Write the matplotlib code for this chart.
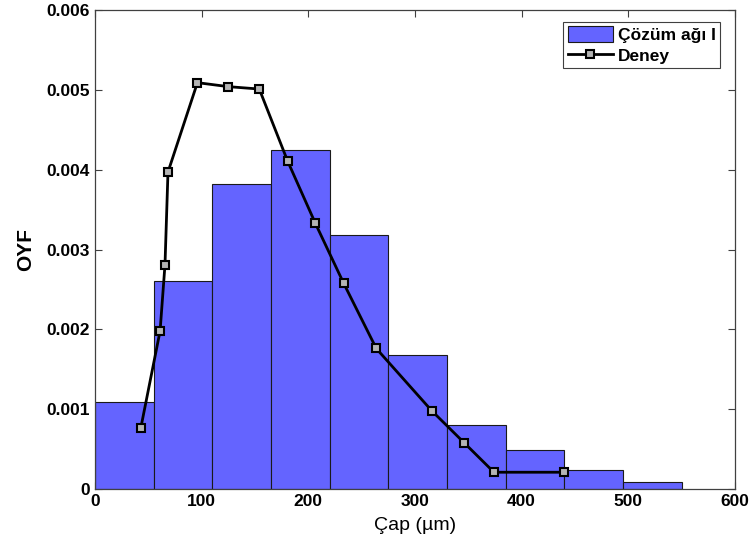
import matplotlib.pyplot as plt
import numpy as np

plt.rcParams['font.family'] = ['Liberation Sans', 'DejaVu Sans']

# histogram (Çözüm ağı I)
bin_edges = [0, 55, 110, 165, 220, 275, 330, 385, 440, 495, 550]
bin_heights = [0.00109, 0.00260, 0.00382, 0.00425, 0.00318, 0.00168,
               0.00080, 0.00049, 0.00024, 0.00009]

# experiment (Deney)
exp_x = [43, 61, 65.6, 68.4, 96, 125, 154, 180.5, 206.5, 233, 263.7,
         315.7, 346, 374, 440]
exp_y = [0.00077, 0.00198, 0.00281, 0.00397, 0.00509, 0.00504, 0.00501,
         0.00411, 0.00333, 0.00258, 0.00176, 0.00098, 0.00058, 0.00021,
         0.00021]

fig = plt.figure(figsize=(7.5, 5.56), dpi=100)
ax = fig.add_axes([0.1267, 0.1205, 0.8533, 0.8615])

edges = np.array(bin_edges)
bars = ax.bar(edges[:-1], bin_heights, width=np.diff(edges), align='edge',
              color='#6464ff', edgecolor='#1a1a1a', linewidth=0.8,
              label='Çözüm ağı I', zorder=2)
line, = ax.plot(exp_x, exp_y, color='black', lw=2, marker='s', markersize=5.5,
                markerfacecolor='#b4b4b4', markeredgecolor='black',
                markeredgewidth=1.5, label='Deney', zorder=3)

ax.set_xlim(0, 600)
ax.set_ylim(0, 0.006)
ax.set_xticks(np.arange(0, 601, 100))
ax.set_yticks(np.arange(0, 0.0061, 0.001))
ax.set_yticklabels(['0', '0.001', '0.002', '0.003', '0.004', '0.005', '0.006'])
ax.tick_params(direction='in', top=True, right=True, labelsize=12.5,
               length=5, color='#404040', width=0.8)
for lab in ax.get_xticklabels() + ax.get_yticklabels():
    lab.set_fontweight('bold')
for s in ax.spines.values():
    s.set_color('#404040')
    s.set_linewidth(0.9)

ax.set_xlabel('Çap (µm)', fontsize=14, labelpad=6)
ax.set_ylabel('OYF', fontsize=15, fontweight='bold', labelpad=8)

leg = ax.legend([bars, line], ['Çözüm ağı I', 'Deney'],
                loc='upper right', bbox_to_anchor=(0.977, 0.975),
                fancybox=False, edgecolor='#404040', framealpha=1,
                prop={'weight': 'bold', 'size': 12.5}, handlelength=2.6,
                handleheight=1.0, borderaxespad=0, handletextpad=0.3,
                borderpad=0.25, labelspacing=0.25)
leg.get_frame().set_linewidth(0.8)

fig.savefig('out.png', dpi=100)
